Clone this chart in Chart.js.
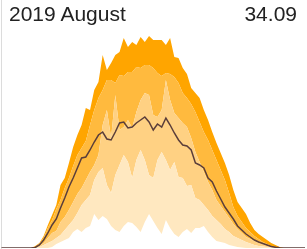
<!DOCTYPE html>
<html>
<head>
<meta charset="utf-8">
<script src="https://cdn.jsdelivr.net/npm/chart.js@4/dist/chart.umd.min.js"></script>
<style>
  body { margin: 0; background: #fff; }
  .wrap { position: relative; width: 307px; height: 249px; }
  .lbl { position: absolute; top: 3px; font-family: "Liberation Sans", Arial, sans-serif; font-size: 21px; line-height: 21px; color: #222; }
  #title { left: 9px; }
  #total { right: 10px; }
</style>
</head>
<body>
<div class="wrap">
  <canvas id="chart" width="307" height="249"></canvas>
  <div class="lbl" id="title">2019 August</div>
  <div class="lbl" id="total">34.09</div>
</div>
<script>
// time of day, 20 min steps
const times = ["00:00","00:20","00:40","01:00","01:20","01:40","02:00","02:20","02:40","03:00","03:20","03:40",
  "04:00","04:20","04:40","05:00","05:20","05:40","06:00","06:20","06:40","07:00","07:20","07:40",
  "08:00","08:20","08:40","09:00","09:20","09:40","10:00","10:20","10:40","11:00","11:20","11:40",
  "12:00","12:20","12:40","13:00","13:20","13:40","14:00","14:20","14:40","15:00","15:20","15:40",
  "16:00","16:20","16:40","17:00","17:20","17:40","18:00","18:20","18:40","19:00","19:20","19:40",
  "20:00","20:20","20:40","21:00","21:20","21:40","22:00","22:20","22:40","23:00","23:20","23:40","24:00"];

// band edges (lowest to highest) and the mean line
const minVals = [0,0,0,0,0,0,0,0, 0,0,0,0,1,4,6,8,10,16,19,16,20,22,34,28,32,29,22,18,16,22,26,25,21,16,26,34,27,20,14,28,20,14,11,16,19,15,20,20,22,16,11,7,6,5,3,2,1,0.5,0,0,0,0,0,0,0,0,0,0,0, 0,0,0,0];
const p25Vals = [0,0,0,0,0,0,0,0, 0,1,3,5,7,10,13,18,23,28,35,43,48,53,68,76,80,63,55,73,83,93,86,70,88,98,88,73,70,88,96,88,78,86,71,70,62,63,50,48,43,38,32,28,24,19,16,12,10,8,6,4.5,3,2,1.5,1,0.5,0,0,0,0, 0,0,0,0];
const p50Vals = [0,0,0,0,0,0,0,0, 0,2,5,10,15,17,26,31,38,46,54,60,68,76,83,93,123,138,110,153,118,121,128,120,136,148,155,153,133,131,138,168,148,135,130,125,121,110,96,86,76,66,58,48,42,36,30,24,19,15,11,9,7,5,4,2,1,0,0,0,0, 0,0,0,0];
const p75Vals = [0,0,0,0,0,0,0,0, 1,4,10,20,28,39,48,60,70,82,93,100,107,123,138,150,158,168,168,165,173,172,176,176,181,180,183,183,180,175,172,175,174,171,165,155,150,144,136,126,116,108,98,88,78,68,55,41,32,26,20,16,12,9,6,4,2,1,0,0,0, 0,0,0,0];
const maxVals = [0,0,0,0,0,0,0,0, 2,5,12,23,33,43,63,70,85,101,113,123,140,138,158,166,193,178,185,193,196,210,201,206,203,211,206,212,208,208,208,203,210,191,190,180,174,160,155,150,138,128,116,105,95,85,73,58,46,40,34,25,18,14,11,8,5,3,1,0,0, 0,0,0,0];
const meanVals = [0,0,0,0,0,0,0,0, 0.5,3,8,15,23,29,40,50,61,70,80,90,91,98,106,113,116,109,108,116,125,126,120,121,125,128,131,126,118,124,121,130,123,115,108,103,102,98,85,83,80,70,66,57,49,41,35,29,22,18,14,11,8,6,4.5,3,1.5,0.7,0.2,0,0, 0,0,0,0];

const bandColors = ['#ffe8c0', '#ffd183', '#ffba3e', '#ffa500'];

function band(data, color) {
    return {
        data: data,
        backgroundColor: color,
        borderWidth: 0,
        pointRadius: 0,
        fill: '-1'
    };
}

let ctx = document.getElementById('chart');
let myChart = new Chart(ctx, {
    type: 'line',
    data: {
        labels: times,
        datasets: [
            { data: meanVals, borderColor: '#5b3e3a', borderWidth: 1.5, pointRadius: 0, fill: false },
            { data: minVals, borderWidth: 0, pointRadius: 0, fill: false },
            band(p25Vals, bandColors[0]),
            band(p50Vals, bandColors[1]),
            band(p75Vals, bandColors[2]),
            band(maxVals, bandColors[3])
        ]
    },
    options: {
        responsive: false,
        animation: false,
        devicePixelRatio: 1,
        layout: { padding: { left: 1.5, right: 2, top: 0, bottom: 1 } },
        elements: { line: { tension: 0 } },
        plugins: {
            legend: { display: false },
            tooltip: { enabled: false },
            filler: { drawTime: 'beforeDatasetsDraw' }
        },
        scales: {
            x: { display: false },
            y: {
                min: 0,
                max: 248,
                ticks: { display: false },
                grid: { display: false, drawTicks: false },
                border: { display: true, color: '#dcdcdc', width: 1 }
            }
        }
    }
});
</script>
</body>
</html>
